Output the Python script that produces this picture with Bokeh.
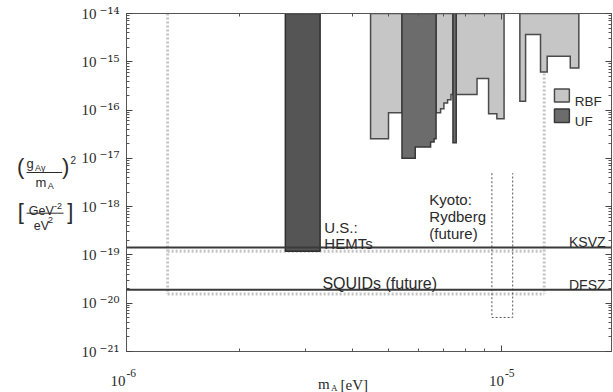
import math
from bokeh.plotting import figure
from bokeh.layouts import row, column
from bokeh.models import (Range1d, LogAxis, FixedTicker, CustomJSTickFormatter, Span,
                          Label, LogScale)
from bokeh.embed import file_html
from bokeh.resources import INLINE
from bokeh.core.properties import value

# ---------------- data ----------------
x_major_ticks = [1e-6, 1e-5]
x_minor_ticks = [2e-6, 3e-6, 4e-6, 5e-6, 6e-6, 7e-6, 8e-6, 9e-6]
y_major_ticks = [1e-21, 1e-20, 1e-19, 1e-18, 1e-17, 1e-16, 1e-15, 1e-14]
x_limits = (1e-6, 1.96e-5)
y_limits = (1e-21, 1e-14)
excl_top = 1e-14

ksvz_level = 1.42e-19
dfsz_level = 1.91e-20
hemt_future_level = 1.19e-19
squid_future_level = 1.55e-20
future_mass = [1.287e-6, 1.297e-5]

hemt_edges = [2.65e-6, 3.28e-6]
hemt_levels = [1.19e-19]

rbf1_edges = [4.47e-6, 4.99e-6, 5.42e-6]
rbf1_levels = [2.55e-17, 8.83e-17]
uf1_edges = [5.42e-6, 5.88e-6, 6.46e-6, 6.60e-6, 6.68e-6]
uf1_levels = [1.01e-17, 1.71e-17, 2.17e-17, 2.55e-17]
rbf2_edges = [6.68e-6, 6.87e-6, 7.01e-6, 7.17e-6, 7.32e-6, 7.41e-6]
rbf2_levels = [8.83e-17, 1.07e-16, 1.40e-16, 1.64e-16, 2.09e-16]
uf2_edges = [7.41e-6, 7.56e-6]
uf2_levels = [2.11e-17]
rbf3_edges = [7.56e-6, 8.59e-6, 9.22e-6, 9.70e-6, 1.014e-5]
rbf3_levels = [2.09e-16, 4.48e-16, 8.42e-17, 6.63e-17]
rbf4_edges = [1.117e-5, 1.157e-5, 1.268e-5, 1.321e-5, 1.522e-5, 1.604e-5]
rbf4_levels = [1.52e-16, 3.67e-15, 6.14e-16, 1.30e-15, 7.44e-16]

kyoto_mass = [9.41e-6, 1.069e-5]
kyoto_levels = [4.93e-18, 5.07e-21]

legend_labels = ["RBF", "UF"]

# ---------------- layout (page pixels) ----------------
FL, FR, FT, FB = 122, 611, 13, 351
PAGE_W = 613
TOP_H = 360          # height of the upper row
STRIP_H = 32         # bottom strip with x tick labels and x label
LW = 78              # left panel (y-axis label) width
LX = math.log10(x_limits[1]) - math.log10(x_limits[0])
LY = math.log10(y_limits[1]) - math.log10(y_limits[0])
DX = (FR - FL) / LX   # px per decade
DY = (FB - FT) / LY


def sx(px):
    return 10 ** (math.log10(x_limits[0]) + (px - FL) / DX)


def sy(py):
    return 10 ** (math.log10(y_limits[1]) - (py - FT) / DY)


def step_polygon(edges, levels, top):
    xs, ys = [edges[0]], [top]
    for i, lv in enumerate(levels):
        xs += [edges[i], edges[i + 1]]
        ys += [lv, lv]
    xs.append(edges[-1])
    ys.append(top)
    return xs, ys


SANS = "Liberation Sans"
SERIF = "Liberation Serif"
INK = "#2a2a2a"
RBF_FILL, RBF_LINE = "#c6c6c6", "#4a4a4a"
UF_FILL, UF_LINE = "#6c6c6c", "#383838"

# ================= main plot =================
p = figure(width=PAGE_W - LW, height=TOP_H, title=None,
           x_axis_type="log", y_axis_type="log",
           x_range=Range1d(*x_limits), y_range=Range1d(*y_limits),
           output_backend="svg", toolbar_location=None,
           min_border_left=FL - LW, min_border_top=FT,
           min_border_bottom=TOP_H - FB, min_border_right=PAGE_W - FR,
           background_fill_color="white", border_fill_color="white")
p.grid.visible = False
p.outline_line_color = "#777777"

y_minor = [k * t for t in y_major_ticks[:-1] for k in range(2, 10)]
xt = FixedTicker(ticks=x_major_ticks, minor_ticks=x_minor_ticks)
yt = FixedTicker(ticks=y_major_ticks, minor_ticks=y_minor)


def style_axis(ax, hide_labels=True):
    ax.axis_line_color = "#555555"
    ax.axis_line_width = 1
    ax.major_tick_line_color = "#444444"
    ax.minor_tick_line_color = "#555555"
    ax.major_tick_in = 6
    ax.major_tick_out = 0
    ax.minor_tick_in = 3
    ax.minor_tick_out = 0
    if hide_labels:
        ax.formatter = CustomJSTickFormatter(code="return '';")
        ax.major_label_text_font_size = "0px"
        ax.major_label_standoff = 0


p.xaxis.ticker = xt
style_axis(p.xaxis[0])

sup_code = """
const e = Math.round(Math.log10(tick));
const m = {"-":"\u207b","0":"\u2070","1":"\u00b9","2":"\u00b2","3":"\u00b3","4":"\u2074","5":"\u2075","6":"\u2076","7":"\u2077","8":"\u2078","9":"\u2079"};
return String(e).split("").map(c => m[c]).join("");
"""

# inner left axis: ticks + superscript exponents of the tick labels
p.yaxis.ticker = yt
yin = p.yaxis[0]
style_axis(yin, hide_labels=False)
yin.formatter = CustomJSTickFormatter(code=sup_code)
yin.major_label_text_font = "DejaVu Serif"
yin.major_label_text_font_size = "15px"
yin.major_label_text_color = INK
yin.major_label_standoff = 7

# outer left axis: the "10" of the tick labels
yout = LogAxis(ticker=FixedTicker(ticks=y_major_ticks))
yout.axis_line_color = None
yout.major_tick_line_color = None
yout.minor_tick_line_color = None
yout.major_tick_in = 0
yout.major_tick_out = 0
yout.formatter = CustomJSTickFormatter(code="return '10';")
yout.major_label_text_font = SERIF
yout.major_label_text_font_size = "15px"
yout.major_label_text_color = INK
yout.major_label_standoff = 0
p.add_layout(yout, "left")

top_ax = LogAxis(ticker=xt)
right_ax = LogAxis(ticker=yt)
style_axis(top_ax)
style_axis(right_ax)
p.add_layout(top_ax, "above")
p.add_layout(right_ax, "right")

# future sensitivity (light dotted)
fut_xs = [[future_mass[0]] * 2, [future_mass[1]] * 2, future_mass, future_mass]
fut_ys = [[excl_top, squid_future_level], [excl_top, squid_future_level],
          [hemt_future_level] * 2, [squid_future_level] * 2]
p.multi_line(xs=fut_xs, ys=fut_ys, line_color="#c4c4c4", line_width=3, line_dash="2 2")

# model lines
p.add_layout(Span(location=ksvz_level, dimension="width", line_color="#3a3a3a", line_width=2))
p.add_layout(Span(location=dfsz_level, dimension="width", line_color="#3a3a3a", line_width=2))

# Kyoto Rydberg (future)
p.line(x=[kyoto_mass[0], kyoto_mass[0], kyoto_mass[1], kyoto_mass[1]],
       y=[kyoto_levels[0], kyoto_levels[1], kyoto_levels[1], kyoto_levels[0]],
       line_color="#555555", line_width=1, line_dash="2 2")

# HEMT bar
hx, hy = step_polygon(hemt_edges, hemt_levels, excl_top)
p.patch(hx, hy, fill_color="#555555", line_color="#2e2e2e", line_width=1.5)

rbf_polys = [step_polygon(e, l, excl_top) for e, l in
             [(rbf1_edges, rbf1_levels), (rbf2_edges, rbf2_levels),
              (rbf3_edges, rbf3_levels), (rbf4_edges, rbf4_levels)]]
uf_polys = [step_polygon(e, l, excl_top) for e, l in
            [(uf1_edges, uf1_levels), (uf2_edges, uf2_levels)]]

p.patches(xs=[a for a, b in rbf_polys], ys=[b for a, b in rbf_polys],
          fill_color=RBF_FILL, line_color=RBF_LINE, line_width=1.5, line_join="miter")
p.patches(xs=[a for a, b in uf_polys], ys=[b for a, b in uf_polys],
          fill_color=UF_FILL, line_color=UF_LINE, line_width=1.5, line_join="miter")

# legend swatches (page-pixel placement)
p.quad(left=[sx(553.5)] * 2, right=[sx(568.5)] * 2,
       top=[sy(88.5), sy(108.5)], bottom=[sy(101.5), sy(122)],
       fill_color=[RBF_FILL, UF_FILL], line_color=[RBF_LINE, UF_LINE], line_width=1.5)


def add_label(text, px, py, size="15px", font=SANS, align="left"):
    p.add_layout(Label(x=sx(px), y=sy(py), text=text, text_font=font, text_font_size=size,
                       text_color=INK, text_align=align, text_baseline="alphabetic"))


add_label(legend_labels[0], 574, 100.5, size="13.5px")
add_label(legend_labels[1], 574, 120.5, size="13.5px")
add_label("U.S.:", 321.5, 226.5)
add_label("HEMTs", 321.5, 242.7)
add_label("SQUIDs (future)", 319.5, 283.3, size="16px")
add_label("Kyoto:", 427.3, 199.3)
add_label("Rydberg", 427.3, 216)
add_label("(future)", 427.3, 232.5)
add_label("KSVZ", 605, 241.7, size="14px", align="right")
add_label("DFSZ", 605, 284.3, size="14px", align="right")

# ================= left panel: y-axis label =================
lf = figure(width=LW, height=TOP_H, title=None,
            x_range=Range1d(0, LW), y_range=Range1d(*y_limits),
            output_backend="svg", toolbar_location=None, min_border=0,
            x_axis_location=None, y_axis_location=None)
lf.y_scale = LogScale()
lf.outline_line_color = None
lf.grid.visible = False


def lf_text(text, px, py, size, align="left", base="alphabetic"):
    lf.text(x=[px], y=[sy(py)], text=[text], text_font=value(SANS), text_font_size=size,
            text_color=INK, text_align=align, text_baseline=base)


lf_text("(", 20.2, 166, "22px", "center", "middle")
lf_text("g", 26, 163.3, "13px")
lf_text("A\u03b3", 34.5, 167.5, "9px")
lf_text("m", 35, 181.7, "13px")
lf_text("A", 47.3, 185, "9px")
lf_text(")", 65.2, 166, "22px", "center", "middle")
lf_text("2", 70, 159.3, "10px")
lf_text("[", 20.2, 210.8, "22px", "center", "middle")
lf_text("GeV", 28.3, 210.7, "12.5px")
lf_text("-2", 53.5, 205.5, "9px")
lf_text("eV", 33.3, 225, "12.5px")
lf_text("2", 47.5, 219.5, "9px")
lf_text("]", 69.7, 210.8, "22px", "center", "middle")
lf.segment(x0=[26, 26], y0=[sy(172), sy(212.7)], x1=[61.7, 63], y1=[sy(172), sy(212.7)],
           line_color=INK, line_width=1)

# ================= bottom strip: x tick labels and x-axis label =================
bf = figure(width=PAGE_W, height=STRIP_H, title=None,
            x_range=Range1d(sx(0), sx(PAGE_W)), y_range=Range1d(STRIP_H, 0),
            output_backend="svg", toolbar_location=None, min_border=0,
            x_axis_location=None, y_axis_location=None)
bf.x_scale = LogScale()
bf.outline_line_color = None
bf.grid.visible = False

x_exps = ["-%d" % abs(round(math.log10(t))) for t in x_major_ticks]
bf.text(x=x_major_ticks, y=[380 - TOP_H] * len(x_major_ticks), text=["10"] * len(x_major_ticks),
        text_font=value(SERIF), text_font_size="15px", text_color=INK,
        text_align="right", text_baseline="alphabetic", x_offset=3)
bf.text(x=x_major_ticks, y=[372.5 - TOP_H] * len(x_major_ticks), text=x_exps,
        text_font=value(SERIF), text_font_size="11.5px", text_color=INK,
        text_align="left", text_baseline="alphabetic", x_offset=4)

bf.text(x=[sx(317.5), sx(330.5), sx(340)], y=[383.5 - TOP_H, 387 - TOP_H, 384 - TOP_H],
        text=["m", "A", "[eV]"], text_font=value(SERIF),
        text_font_size=["15px", "9px", "15px"], text_color=INK,
        text_align="left", text_baseline="alphabetic")

layout = column(row(lf, p), bf)
open("out.html", "w").write(file_html(layout, INLINE))
